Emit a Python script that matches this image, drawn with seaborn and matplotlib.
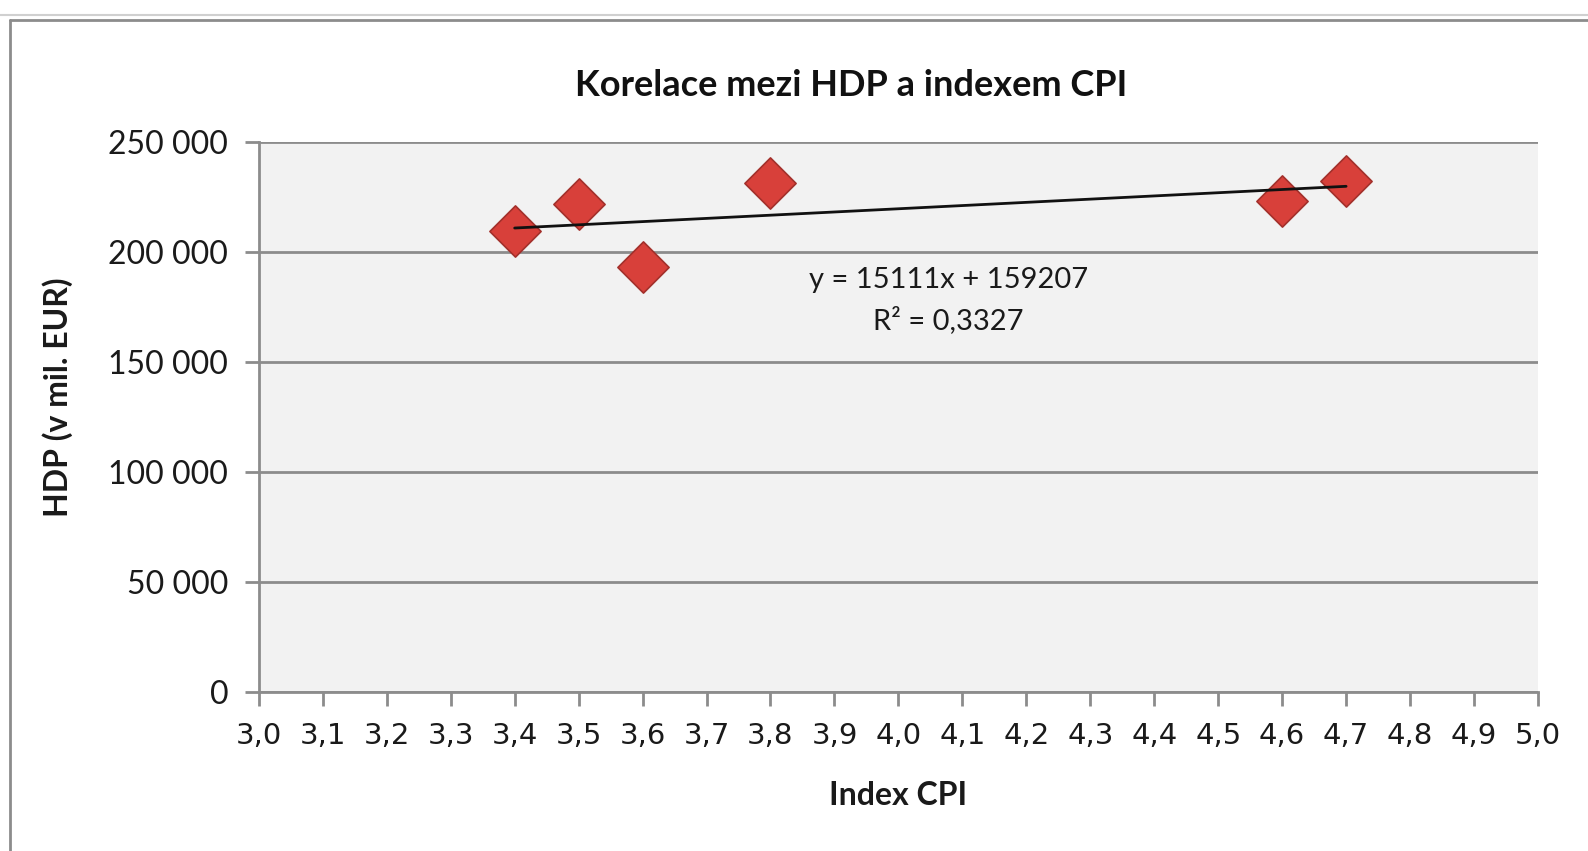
import matplotlib
matplotlib.use('Agg')
import matplotlib.pyplot as plt
import matplotlib.ticker as mticker
from matplotlib.lines import Line2D
import seaborn as sns
import pandas as pd

# values
cpi = [3.4, 3.5, 3.6, 3.8, 4.6, 4.7]
hdp = [209500, 222000, 193400, 231600, 223300, 232500]
x_ticks = [3.0, 3.1, 3.2, 3.3, 3.4, 3.5, 3.6, 3.7, 3.8, 3.9, 4.0,
           4.1, 4.2, 4.3, 4.4, 4.5, 4.6, 4.7, 4.8, 4.9, 5.0]
y_ticks = [0, 50000, 100000, 150000, 200000, 250000]
trend_label = 'y = 15111x + 159207\nR² = 0,3327'

df = pd.DataFrame({'cpi': cpi, 'hdp': hdp})

sns.set_theme(style='white')
plt.rcParams['font.family'] = ['Lato', 'DejaVu Sans']

fig = plt.figure(figsize=(15.88, 8.51), dpi=100)
ax = fig.add_axes([0.163, 0.187, 0.8055, 0.646])
ax.set_facecolor('#f2f2f2')

sns.regplot(
    data=df, x='cpi', y='hdp', ci=None, ax=ax,
    marker='D',
    scatter_kws={'s': 680, 'color': '#d8403a', 'edgecolors': '#a3302b',
                 'linewidths': 1.2, 'zorder': 3, 'alpha': 1},
    line_kws={'color': '#111111', 'lw': 2, 'zorder': 4},
)

ax.set_xlim(3.0, 5.0)
ax.set_ylim(0, 250000)
ax.set_xticks(x_ticks)
ax.set_yticks(y_ticks)
ax.xaxis.set_major_formatter(mticker.FuncFormatter(lambda v, p: f'{v:.1f}'.replace('.', ',')))
ax.yaxis.set_major_formatter(mticker.FuncFormatter(lambda v, p: f'{int(v):,}'.replace(',', ' ')))

ax.grid(axis='y', color='#8c8c8c', lw=2)
ax.set_axisbelow(True)
for side in ['top', 'right']:
    ax.spines[side].set_visible(False)
for side in ['left', 'bottom']:
    ax.spines[side].set_color('#8c8c8c')
    ax.spines[side].set_linewidth(2)
ax.tick_params(axis='both', which='major', direction='out', length=10, width=2,
               color='#8c8c8c', left=True, bottom=True)
ax.tick_params(axis='y', labelsize=23, pad=12, labelcolor='#1a1a1a')
ax.tick_params(axis='x', labelsize=21, pad=12, labelcolor='#1a1a1a')
for lbl in ax.get_xticklabels():
    lbl.set_family(['DejaVu Sans'])

ax.set_xlabel('Index CPI', fontsize=23, fontweight='bold', labelpad=22, color='#1a1a1a')
ax.set_ylabel('HDP (v mil. EUR)', fontsize=23, fontweight='bold', color='#1a1a1a')
ax.yaxis.set_label_coords(-0.1455, 0.536)

ax.text(4.078, 178000, trend_label, ha='center', va='center', fontsize=21,
        color='#1a1a1a', linespacing=1.55)

fig.text(0.536, 0.899, 'Korelace mezi HDP a indexem CPI', ha='center', va='center',
         fontsize=26, fontweight='bold', color='#111111')

# chart area border and sheet lines
fig.add_artist(Line2D([0.0, 1.0], [0.982, 0.982], color='#d0d0d0', lw=1.5))
fig.add_artist(Line2D([0.0065, 1.0], [0.976, 0.976], color='#8c8c8c', lw=2))
fig.add_artist(Line2D([0.0065, 0.0065], [0.0, 0.976], color='#8c8c8c', lw=2))

fig.savefig('out.png', dpi=100)
